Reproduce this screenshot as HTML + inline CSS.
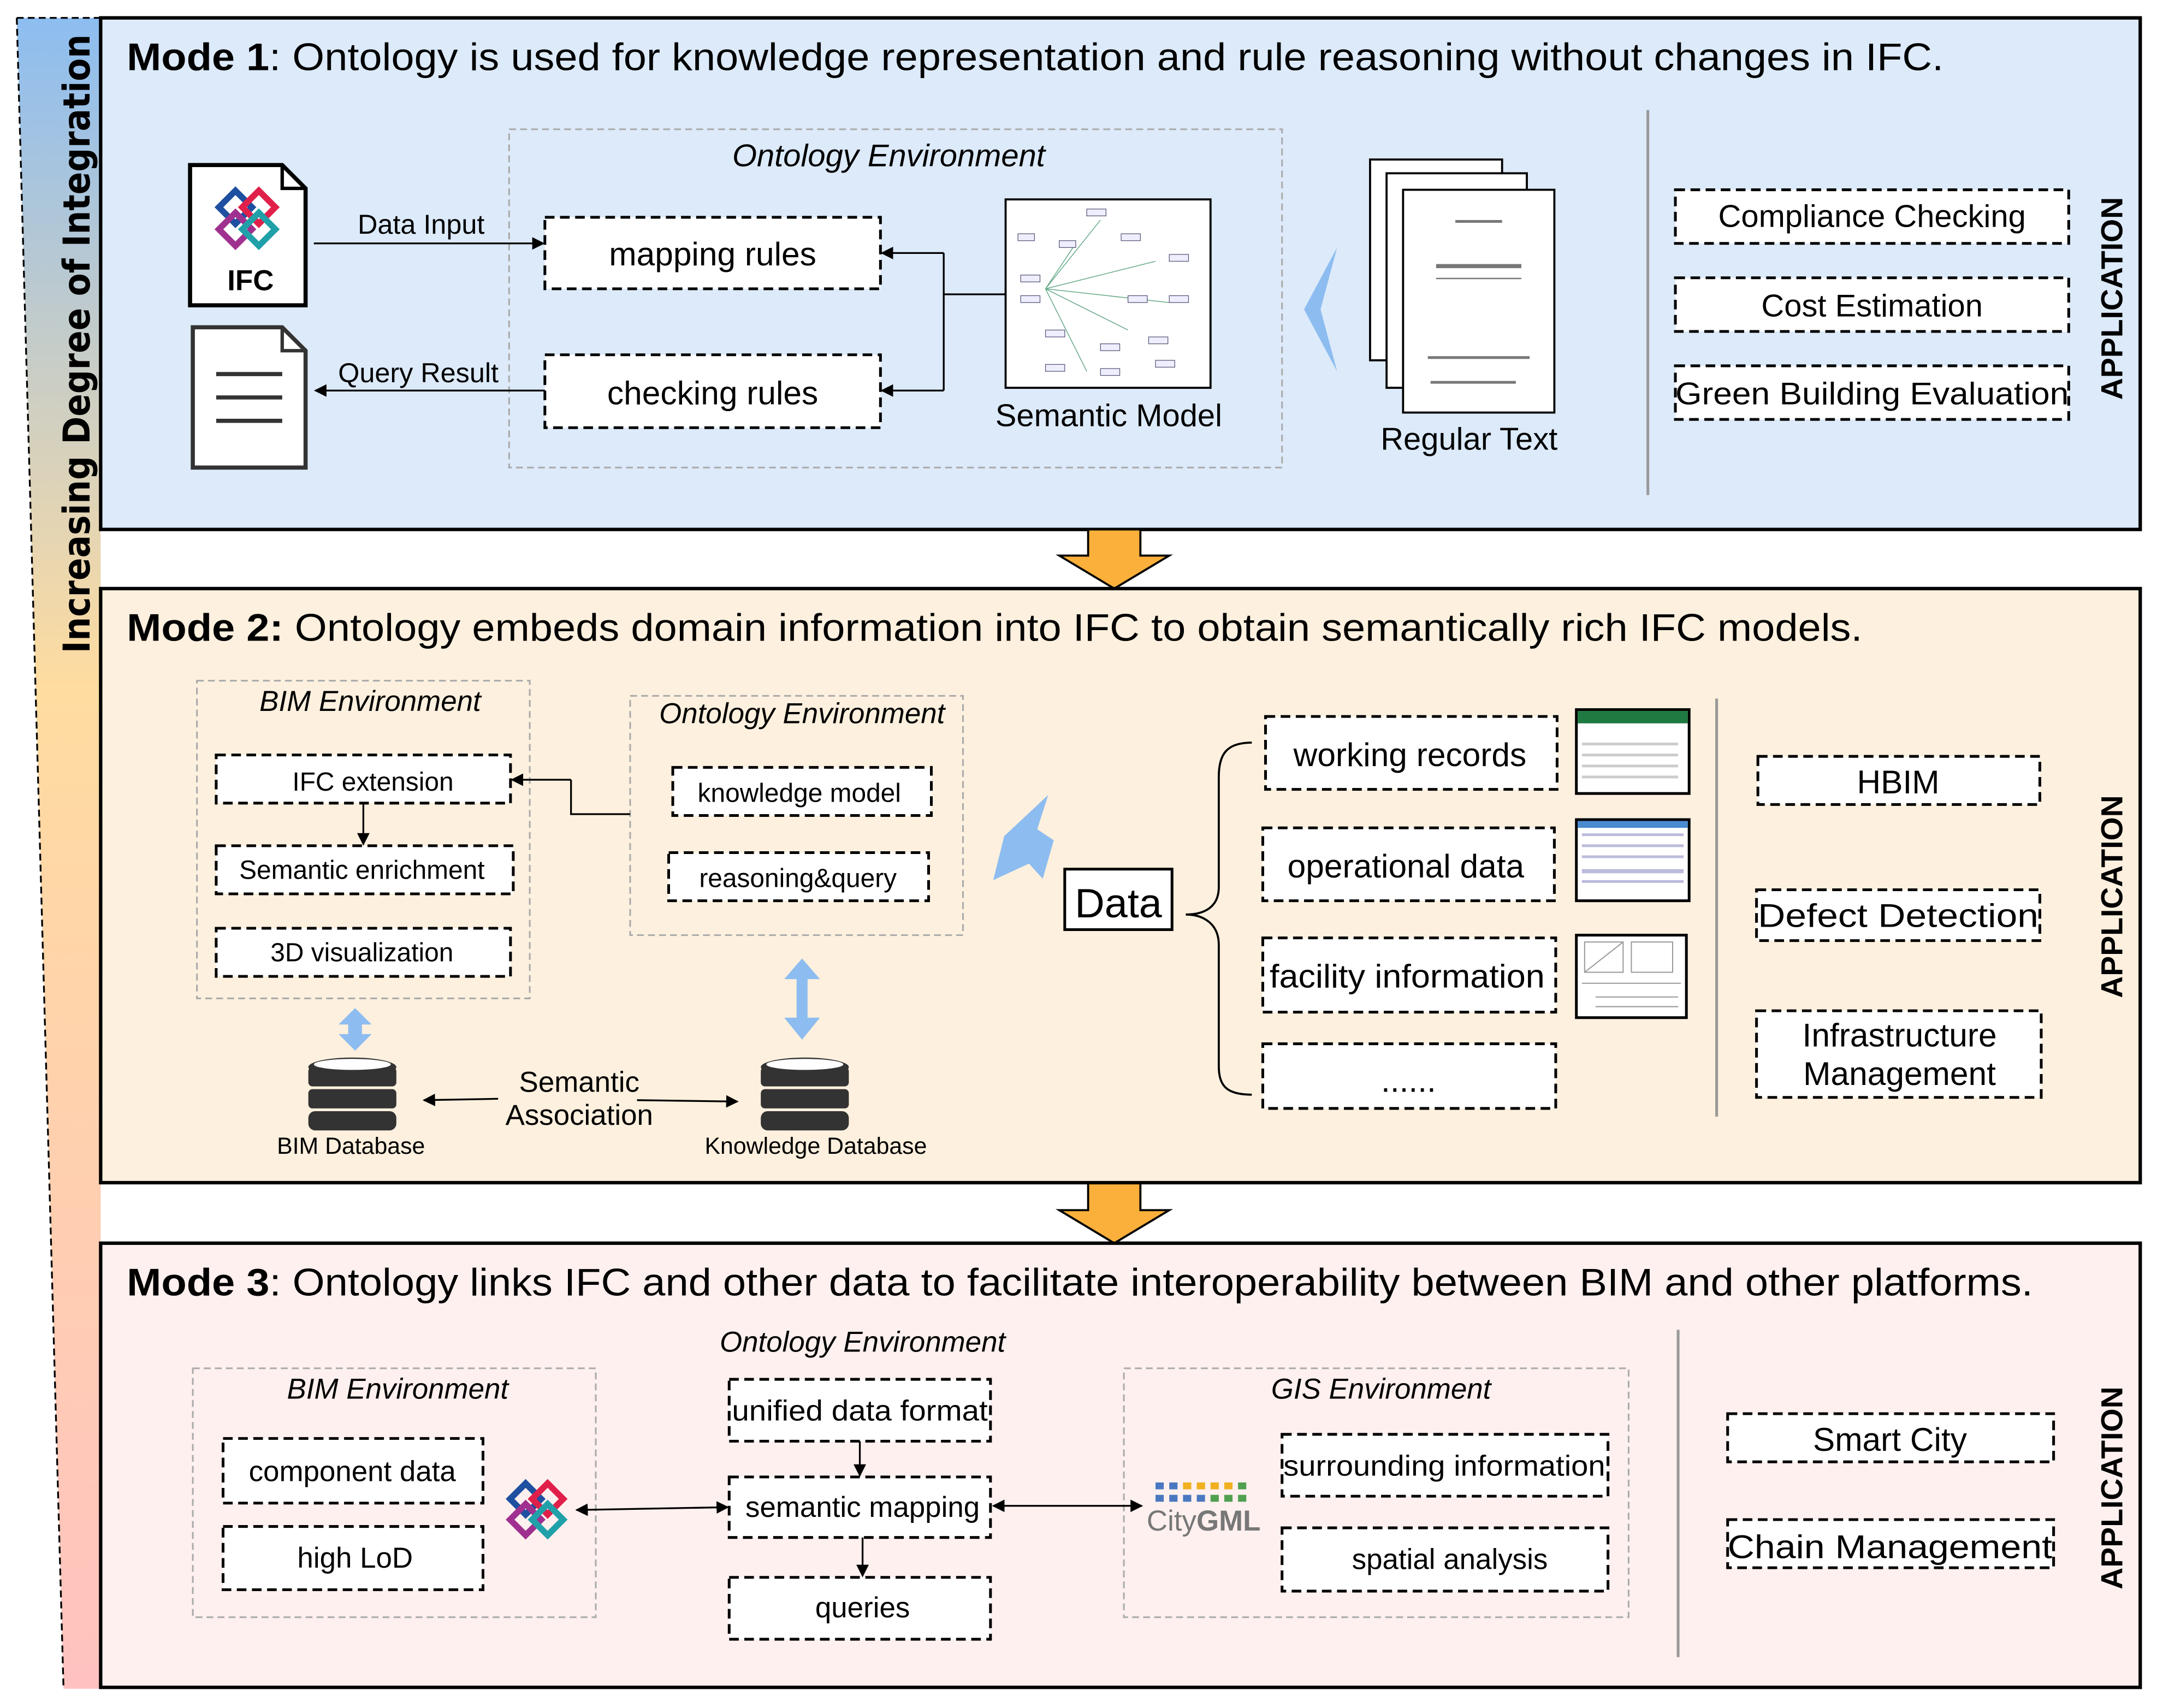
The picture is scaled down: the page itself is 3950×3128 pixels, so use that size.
<!DOCTYPE html>
<html><head><meta charset="utf-8"><style>html,body{margin:0;padding:0;background:#fff}svg{display:block}text{font-family:"Liberation Sans",sans-serif}</style></head><body>
<svg width="3950" height="3128" viewBox="0 0 1568 1242" xmlns="http://www.w3.org/2000/svg">
<defs>
<linearGradient id="lg" x1="0" y1="0" x2="0" y2="1">
<stop offset="0" stop-color="#8dbdf0"/><stop offset="0.4" stop-color="#ffdca0"/><stop offset="1" stop-color="#ffc2c0"/></linearGradient>
<marker id="ah" viewBox="0 0 10 10" refX="9" refY="5" markerWidth="7" markerHeight="7" orient="auto-start-reverse"><path d="M0,0L10,5L0,10z" fill="#000"/></marker>
</defs>
<rect width="1568" height="1242" fill="#fff"/>
<!-- left bar -->
<polygon points="12,13 73,13 73,1228 46,1228" fill="url(#lg)"/>
<line x1="12" y1="13" x2="46" y2="1228" stroke="#000" stroke-width="1.3" stroke-dasharray="5,3"/>
<line x1="12" y1="13" x2="73" y2="13" stroke="#000" stroke-width="1.3" stroke-dasharray="5,3"/>
<text transform="translate(65,250) rotate(-90)" text-anchor="middle" font-size="27" font-weight="bold" textLength="450" lengthAdjust="spacingAndGlyphs" style="font-family:'DejaVu Sans',sans-serif">Increasing Degree of Integration</text>

<!-- Mode 1 -->
<rect x="73" y="13" width="1483" height="372" fill="#dceafa" stroke="#000" stroke-width="2.5"/>
<text x="92" y="51" font-size="28" textLength="1321" lengthAdjust="spacingAndGlyphs"><tspan font-weight="bold">Mode 1</tspan>: Ontology is used for knowledge representation and rule reasoning without changes in IFC.</text>
<path d="M138,120H205L222,137V222H138Z" fill="#fff" stroke="#000" stroke-width="3"/>
<path d="M205,120V137H222" fill="none" stroke="#000" stroke-width="2.5"/>
<g fill="none" stroke-width="4.5">
<rect x="163" y="142" width="17" height="17" transform="rotate(45 171 150)" stroke="#1e4fa0"/>
<rect x="180" y="142" width="17" height="17" transform="rotate(45 188 150)" stroke="#e0204a"/>
<rect x="163" y="158" width="17" height="17" transform="rotate(45 171 166)" stroke="#a0308f"/>
<rect x="180" y="158" width="17" height="17" transform="rotate(45 188 166)" stroke="#20a0a8"/>
</g>
<text x="182" y="211" font-size="21" font-weight="bold" text-anchor="middle">IFC</text>
<path d="M140,238H205L222,255V340H140Z" fill="#fff" stroke="#333" stroke-width="3"/>
<path d="M205,238V255H222" fill="none" stroke="#333" stroke-width="2.5"/>
<g stroke="#333" stroke-width="3"><line x1="157" y1="272" x2="205" y2="272"/><line x1="157" y1="289" x2="205" y2="289"/><line x1="157" y1="306" x2="205" y2="306"/></g>
<rect x="370" y="94" width="562" height="246" fill="none" stroke="#aaa" stroke-width="1.2" stroke-dasharray="5,3"/>
<text x="646" y="121" font-size="23" font-style="italic" text-anchor="middle">Ontology Environment</text>
<line x1="228" y1="177" x2="395" y2="177" stroke="#000" stroke-width="1.3" marker-end="url(#ah)"/>
<text x="306" y="170" font-size="20" text-anchor="middle">Data Input</text>
<line x1="396" y1="284" x2="229" y2="284" stroke="#000" stroke-width="1.3" marker-end="url(#ah)"/>
<text x="304" y="278" font-size="20" text-anchor="middle">Query Result</text>
<g fill="#fff" stroke="#000" stroke-width="2" stroke-dasharray="7,4">
<rect x="396" y="158" width="244" height="52"/><rect x="396" y="258" width="244" height="53"/></g>
<text x="518" y="193" font-size="24" text-anchor="middle">mapping rules</text>
<text x="518" y="294" font-size="24" text-anchor="middle">checking rules</text>
<path d="M731,214H686M686,184V284" fill="none" stroke="#000" stroke-width="1.3"/>
<line x1="686" y1="184" x2="641" y2="184" stroke="#000" stroke-width="1.3" marker-end="url(#ah)"/>
<line x1="686" y1="284" x2="641" y2="284" stroke="#000" stroke-width="1.3" marker-end="url(#ah)"/>
<rect x="731" y="145" width="149" height="137" fill="#fff" stroke="#000" stroke-width="1.5"/>
<g stroke="#6a8" stroke-width="0.6" fill="none"><path d="M760,210L800,160M760,210L840,190M760,210L820,240M760,210L790,270M760,210L850,220M760,210L780,180"/></g>
<g fill="#eef" stroke="#557" stroke-width="0.5">
<rect x="790" y="152" width="14" height="5"/><rect x="740" y="170" width="12" height="5"/><rect x="770" y="175" width="12" height="5"/><rect x="815" y="170" width="14" height="5"/><rect x="850" y="185" width="14" height="5"/><rect x="742" y="200" width="14" height="5"/><rect x="742" y="215" width="14" height="5"/><rect x="820" y="215" width="14" height="5"/><rect x="850" y="215" width="14" height="5"/><rect x="760" y="240" width="14" height="5"/><rect x="800" y="250" width="14" height="5"/><rect x="835" y="245" width="14" height="5"/><rect x="760" y="265" width="14" height="5"/><rect x="800" y="268" width="14" height="5"/><rect x="840" y="262" width="14" height="5"/></g>
<text x="806" y="310" font-size="23" text-anchor="middle">Semantic Model</text>
<polygon points="972,180 948,225 972,270 960,225" fill="#8dbcf0"/>
<rect x="996" y="116" width="96" height="146" fill="#fff" stroke="#000" stroke-width="1.5"/>
<rect x="1008" y="126" width="102" height="156" fill="#fff" stroke="#000" stroke-width="1.5"/>
<rect x="1020" y="138" width="110" height="162" fill="#fff" stroke="#000" stroke-width="1.5"/>
<g fill="#777"><rect x="1058" y="160" width="34" height="2"/><rect x="1044" y="192" width="62" height="3"/><rect x="1044" y="202" width="62" height="1"/><rect x="1038" y="259" width="74" height="2"/><rect x="1040" y="277" width="62" height="2"/></g>
<text x="1068" y="327" font-size="23" text-anchor="middle">Regular Text</text>
<line x1="1198" y1="80" x2="1198" y2="360" stroke="#999" stroke-width="2"/>
<g fill="#fff" stroke="#000" stroke-width="2" stroke-dasharray="7,4">
<rect x="1218" y="138" width="286" height="39"/><rect x="1218" y="202" width="286" height="39"/><rect x="1218" y="266" width="286" height="39"/></g>
<text x="1361" y="165" font-size="23" text-anchor="middle">Compliance Checking</text>
<text x="1361" y="230" font-size="23" text-anchor="middle">Cost Estimation</text>
<text x="1361" y="294" font-size="23" text-anchor="middle" textLength="286" lengthAdjust="spacingAndGlyphs">Green Building Evaluation</text>
<text transform="translate(1543,217) rotate(-90)" text-anchor="middle" font-size="22" font-weight="bold">APPLICATION</text>

<!-- orange arrows -->
<polygon points="791,385 829,385 829,404 850,404 810,428 770,404 791,404" fill="#fbb03b" stroke="#000" stroke-width="1.5"/>
<polygon points="791,860 829,860 829,880 850,880 810,904 770,880 791,880" fill="#fbb03b" stroke="#000" stroke-width="1.5"/>

<!-- Mode 2 -->
<rect x="73" y="428" width="1483" height="432" fill="#fdf0de" stroke="#000" stroke-width="2.5"/>
<text x="92" y="466" font-size="28" textLength="1262" lengthAdjust="spacingAndGlyphs"><tspan font-weight="bold">Mode 2:</tspan> Ontology embeds domain information into IFC to obtain semantically rich IFC models.</text>
<rect x="143" y="495" width="242" height="231" fill="none" stroke="#aaa" stroke-width="1.2" stroke-dasharray="5,3"/>
<text x="269" y="517" font-size="21" font-style="italic" text-anchor="middle">BIM Environment</text>
<rect x="458" y="506" width="242" height="174" fill="none" stroke="#aaa" stroke-width="1.2" stroke-dasharray="5,3"/>
<text x="583" y="526" font-size="21" font-style="italic" text-anchor="middle">Ontology Environment</text>
<g fill="#fff" stroke="#000" stroke-width="2" stroke-dasharray="7,4">
<rect x="157" y="549" width="214" height="35"/><rect x="157" y="615" width="216" height="35"/><rect x="157" y="675" width="214" height="35"/>
<rect x="489" y="558" width="188" height="35"/><rect x="486" y="620" width="189" height="35"/></g>
<text x="271" y="575" font-size="19" text-anchor="middle">IFC extension</text>
<text x="263" y="639" font-size="19" text-anchor="middle">Semantic enrichment</text>
<text x="263" y="699" font-size="19" text-anchor="middle">3D visualization</text>
<text x="581" y="583" font-size="19" text-anchor="middle">knowledge model</text>
<text x="580" y="645" font-size="19" text-anchor="middle">reasoning&amp;query</text>
<line x1="264" y1="584" x2="264" y2="614" stroke="#000" stroke-width="1.3" marker-end="url(#ah)"/>
<path d="M458,592H415V567" fill="none" stroke="#000" stroke-width="1.3"/>
<line x1="415" y1="567" x2="372" y2="567" stroke="#000" stroke-width="1.3" marker-end="url(#ah)"/>
<polygon points="258,733 270,745 263,745 263,752 270,752 258,764 246,752 253,752 253,745 246,745" fill="#8dbcf0"/>
<polygon points="583,697 596,712 587,712 587,740 596,740 583,756 570,740 579,740 579,712 570,712" fill="#8dbcf0"/>
<g fill="#333">
<ellipse cx="256" cy="776" rx="32" ry="7"/><rect x="224" y="776" width="64" height="14" rx="3"/><rect x="224" y="792" width="64" height="14" rx="3"/><rect x="224" y="808" width="64" height="14" rx="5"/>
<ellipse cx="585" cy="776" rx="32" ry="7"/><rect x="553" y="776" width="64" height="14" rx="3"/><rect x="553" y="792" width="64" height="14" rx="3"/><rect x="553" y="808" width="64" height="14" rx="5"/></g>
<ellipse cx="256" cy="774" rx="28" ry="4" fill="#fff"/><ellipse cx="585" cy="774" rx="28" ry="4" fill="#fff"/>
<text x="255" y="839" font-size="17" text-anchor="middle">BIM Database</text>
<text x="593" y="839" font-size="17" text-anchor="middle">Knowledge Database</text>
<text x="421" y="794" font-size="21" text-anchor="middle">Semantic</text>
<text x="421" y="818" font-size="21" text-anchor="middle">Association</text>
<line x1="362" y1="799" x2="308" y2="800" stroke="#000" stroke-width="1.3" marker-end="url(#ah)"/>
<line x1="463" y1="800" x2="536" y2="801" stroke="#000" stroke-width="1.3" marker-end="url(#ah)"/>
<polygon points="762,578 754,603 766,611 758,639 748,628 722,640 730,608" fill="#8dbcf0"/>
<rect x="774" y="632" width="78" height="44" fill="#fff" stroke="#000" stroke-width="2"/>
<text x="813" y="667" font-size="30" text-anchor="middle">Data</text>
<path d="M910,540C892,540 886,548 886,565V645C886,660 875,665 862,665C875,665 886,672 886,687V775C886,790 892,796 910,796" fill="none" stroke="#000" stroke-width="1.5"/>
<g fill="#fff" stroke="#000" stroke-width="2" stroke-dasharray="7,4">
<rect x="920" y="521" width="212" height="53"/><rect x="918" y="602" width="212" height="53"/><rect x="918" y="682" width="213" height="54"/><rect x="918" y="759" width="213" height="47"/></g>
<text x="1025" y="557" font-size="24" text-anchor="middle">working records</text>
<text x="1022" y="638" font-size="24" text-anchor="middle">operational data</text>
<text x="1023" y="718" font-size="24" text-anchor="middle" textLength="200" lengthAdjust="spacingAndGlyphs">facility information</text>
<text x="1024" y="794" font-size="24" text-anchor="middle">......</text>
<rect x="1146" y="516" width="82" height="61" fill="#fff" stroke="#000" stroke-width="2"/>
<rect x="1147" y="517" width="80" height="9" fill="#1e7a40"/>
<g fill="#ccc"><rect x="1150" y="540" width="70" height="2"/><rect x="1150" y="548" width="70" height="2"/><rect x="1150" y="556" width="70" height="2"/><rect x="1150" y="564" width="70" height="2"/></g>
<rect x="1146" y="596" width="82" height="59" fill="#fff" stroke="#000" stroke-width="2"/>
<rect x="1147" y="597" width="80" height="5" fill="#4a8ad0"/>
<g fill="#bbd"><rect x="1150" y="606" width="74" height="2"/><rect x="1150" y="614" width="74" height="2"/><rect x="1150" y="622" width="74" height="2"/><rect x="1150" y="632" width="74" height="3"/><rect x="1150" y="640" width="74" height="2"/></g>
<rect x="1146" y="680" width="80" height="60" fill="#fff" stroke="#000" stroke-width="2"/>
<g fill="none" stroke="#999" stroke-width="0.8"><rect x="1152" y="685" width="28" height="22"/><rect x="1186" y="685" width="30" height="22"/><line x1="1152" y1="707" x2="1180" y2="685"/><line x1="1150" y1="715" x2="1222" y2="715"/><line x1="1160" y1="725" x2="1220" y2="725"/><line x1="1160" y1="732" x2="1220" y2="732"/></g>
<line x1="1248" y1="508" x2="1248" y2="812" stroke="#999" stroke-width="2"/>
<g fill="#fff" stroke="#000" stroke-width="2" stroke-dasharray="7,4">
<rect x="1278" y="550" width="205" height="35"/><rect x="1277" y="647" width="206" height="37"/><rect x="1277" y="735" width="207" height="63"/></g>
<text x="1380" y="577" font-size="24" text-anchor="middle">HBIM</text>
<text x="1380" y="674" font-size="24" text-anchor="middle" textLength="204" lengthAdjust="spacingAndGlyphs">Defect Detection</text>
<text x="1381" y="761" font-size="24" text-anchor="middle">Infrastructure</text>
<text x="1381" y="789" font-size="24" text-anchor="middle">Management</text>
<text transform="translate(1543,652) rotate(-90)" text-anchor="middle" font-size="22" font-weight="bold">APPLICATION</text>

<!-- Mode 3 -->
<rect x="73" y="904" width="1483" height="323" fill="#fdf0ee" stroke="#000" stroke-width="2.5"/>
<text x="92" y="942" font-size="28" textLength="1386" lengthAdjust="spacingAndGlyphs"><tspan font-weight="bold">Mode 3</tspan>: Ontology links IFC and other data to facilitate interoperability between BIM and other platforms.</text>
<text x="627" y="983" font-size="21" font-style="italic" text-anchor="middle">Ontology Environment</text>
<rect x="140" y="995" width="293" height="181" fill="none" stroke="#aaa" stroke-width="1.2" stroke-dasharray="5,3"/>
<text x="289" y="1017" font-size="21" font-style="italic" text-anchor="middle">BIM Environment</text>
<rect x="817" y="995" width="367" height="181" fill="none" stroke="#aaa" stroke-width="1.2" stroke-dasharray="5,3"/>
<text x="1004" y="1017" font-size="21" font-style="italic" text-anchor="middle">GIS Environment</text>
<g fill="#fff" stroke="#000" stroke-width="2" stroke-dasharray="7,4">
<rect x="162" y="1046" width="189" height="47"/><rect x="162" y="1110" width="189" height="46"/>
<rect x="530" y="1003" width="190" height="45"/><rect x="530" y="1074" width="190" height="44"/><rect x="530" y="1147" width="190" height="45"/>
<rect x="932" y="1043" width="237" height="45"/><rect x="932" y="1111" width="237" height="46"/></g>
<text x="256" y="1077" font-size="21" text-anchor="middle">component data</text>
<text x="258" y="1140" font-size="21" text-anchor="middle">high LoD</text>
<text x="625" y="1033" font-size="21" text-anchor="middle" textLength="186" lengthAdjust="spacingAndGlyphs">unified data format</text>
<text x="627" y="1103" font-size="21" text-anchor="middle">semantic mapping</text>
<text x="627" y="1176" font-size="21" text-anchor="middle">queries</text>
<text x="1050" y="1073" font-size="21" text-anchor="middle" textLength="234" lengthAdjust="spacingAndGlyphs">surrounding information</text>
<text x="1054" y="1141" font-size="21" text-anchor="middle">spatial analysis</text>
<line x1="625" y1="1048" x2="625" y2="1073" stroke="#000" stroke-width="1.3" marker-end="url(#ah)"/>
<line x1="627" y1="1118" x2="627" y2="1146" stroke="#000" stroke-width="1.3" marker-end="url(#ah)"/>
<line x1="419" y1="1098" x2="529" y2="1096" stroke="#000" stroke-width="1.3" marker-start="url(#ah)" marker-end="url(#ah)"/>
<line x1="722" y1="1095" x2="830" y2="1095" stroke="#000" stroke-width="1.3" marker-start="url(#ah)" marker-end="url(#ah)"/>
<g fill="none" stroke-width="4.5">
<rect x="374" y="1082" width="16" height="16" transform="rotate(45 382 1090)" stroke="#1e4fa0"/>
<rect x="390" y="1082" width="16" height="16" transform="rotate(45 398 1090)" stroke="#e0204a"/>
<rect x="374" y="1097" width="16" height="16" transform="rotate(45 382 1105)" stroke="#a0308f"/>
<rect x="390" y="1097" width="16" height="16" transform="rotate(45 398 1105)" stroke="#20a0a8"/>
</g>
<g fill="#4a78c0"><rect x="840" y="1078" width="6" height="5"/><rect x="850" y="1078" width="6" height="5"/><rect x="840" y="1087" width="6" height="5"/><rect x="850" y="1087" width="6" height="5"/><rect x="860" y="1087" width="6" height="5"/><rect x="870" y="1087" width="6" height="5"/></g>
<g fill="#f0b020"><rect x="860" y="1078" width="6" height="5"/><rect x="870" y="1078" width="6" height="5"/><rect x="880" y="1078" width="6" height="5"/><rect x="890" y="1078" width="6" height="5"/></g>
<g fill="#50a050"><rect x="880" y="1087" width="6" height="5"/><rect x="890" y="1087" width="6" height="5"/><rect x="900" y="1078" width="6" height="5"/><rect x="900" y="1087" width="6" height="5"/></g>
<text x="875" y="1113" font-size="21" fill="#777" text-anchor="middle">City<tspan font-weight="bold">GML</tspan></text>
<line x1="1220" y1="967" x2="1220" y2="1205" stroke="#999" stroke-width="2"/>
<g fill="#fff" stroke="#000" stroke-width="2" stroke-dasharray="7,4">
<rect x="1256" y="1028" width="237" height="35"/><rect x="1256" y="1105" width="237" height="35"/></g>
<text x="1374" y="1055" font-size="24" text-anchor="middle">Smart City</text>
<text x="1374" y="1133" font-size="24" text-anchor="middle" textLength="236" lengthAdjust="spacingAndGlyphs">Chain Management</text>
<text transform="translate(1543,1082) rotate(-90)" text-anchor="middle" font-size="22" font-weight="bold">APPLICATION</text>
</svg>
</body></html>
